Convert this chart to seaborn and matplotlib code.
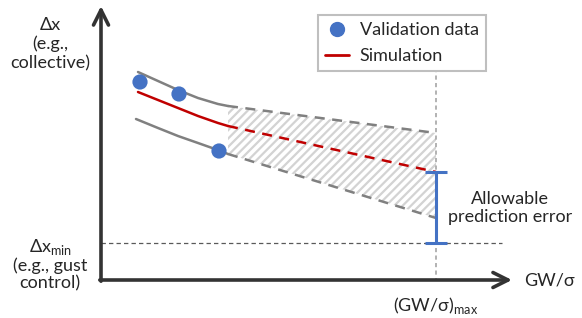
import matplotlib
matplotlib.use("Agg")
import matplotlib.pyplot as plt
import seaborn as sns
import numpy as np
import pandas as pd
from matplotlib.lines import Line2D

# schematic in picture units (x to the right, y downwards)
upper_x = [138, 158, 178, 198, 218, 228]
upper_y = [72, 81, 90, 98, 104, 106]
sim_x = [138, 158, 178, 198, 218, 228]
sim_y = [92, 100, 108, 116, 123, 126]
lower_x = [136, 158, 178, 198, 215, 228]
lower_y = [119, 128, 136, 143, 149, 154]

# extrapolated part
ext_x = [228, 436]
upper_ext_y = [106, 133]
sim_ext_y = [126, 172]
lower_ext_y = [154, 218]

val_x = [140, 179, 219]
val_y = [82, 94, 151]

x_max = 436
dx_min = 243
origin = (101, 280)

sns.set_theme(style="white")
plt.rcParams['font.family'] = ['Lato', 'DejaVu Sans']
plt.rcParams['hatch.linewidth'] = 1.6

fig = plt.figure(figsize=(5.82, 3.18), dpi=100)
ax = fig.add_axes([0, 0, 1, 1])
ax.set_xlim(0, 582)
ax.set_ylim(318, 0)
ax.axis("off")

grey = "#808080"
red = "#c00000"
blue = "#4472c4"
axis_col = "#333333"

# hatched uncertainty band
ax.fill_between(ext_x, upper_ext_y, lower_ext_y, facecolor="none",
                edgecolor="#d3d3d3", hatch="////", linewidth=0)

# reference lines
ax.plot([x_max, x_max], [68, origin[1]], color="#a6a6a6", lw=1.2, ls=(0, (2.5, 2)))
ax.plot([origin[0], 502], [dx_min, dx_min], color="#595959", lw=0.9, ls=(0, (3.5, 2.5)))

# curves
sns.lineplot(x=upper_x, y=upper_y, ax=ax, color=grey, lw=1.8, sort=False)
sns.lineplot(x=lower_x, y=lower_y, ax=ax, color=grey, lw=1.8, sort=False)
sns.lineplot(x=sim_x, y=sim_y, ax=ax, color=red, lw=1.8, sort=False)
ax.plot(ext_x, upper_ext_y, color=grey, lw=1.8, ls=(0, (4, 3)))
ax.plot(ext_x, lower_ext_y, color=grey, lw=1.8, ls=(0, (4, 3)))
ax.plot(ext_x, sim_ext_y, color=red, lw=1.8, ls=(0, (4, 3)))

sns.scatterplot(x=val_x, y=val_y, ax=ax, color=blue, s=120, edgecolor="none", zorder=5)

# allowable prediction error bar
ax.errorbar([x_max], [(sim_ext_y[1] + dx_min) / 2], yerr=[(dx_min - sim_ext_y[1]) / 2],
            color=blue, lw=2.2, capsize=8, capthick=2.2, zorder=6)

# axes arrows
arrow = dict(arrowstyle="->,head_length=0.9,head_width=0.45",
             color=axis_col, lw=2.6, shrinkA=0, shrinkB=0)
ax.annotate("", xy=(origin[0], 6), xytext=(origin[0], origin[1] + 1.2), arrowprops=arrow)
ax.annotate("", xy=(512, origin[1]), xytext=(origin[0] - 1.2, origin[1]), arrowprops=arrow)

fs = 13
ax.text(50, 44, "Δx\n(e.g.,\ncollective)", ha="center", va="center", fontsize=fs,
        linespacing=1.2)
ax.text(50, 264, "Δx$_{\\mathregular{min}}$\n(e.g., gust\ncontrol)", ha="center",
        va="center", fontsize=fs, linespacing=1.05)
ax.text(549, 281, "GW/σ", ha="center", va="center", fontsize=fs)
ax.text(x_max, 306, "(GW/σ)$_{\\mathregular{max}}$", ha="center", va="center", fontsize=fs)
ax.text(510, 208, "Allowable\nprediction error", ha="center", va="center", fontsize=fs,
        linespacing=1.15)

handles = [Line2D([], [], marker="o", ls="", color=blue, ms=10),
           Line2D([], [], color=red, lw=2)]
leg = ax.legend(handles, ["Validation data", "Simulation"], loc="upper left",
                bbox_to_anchor=(318 / 582, 1 - 15 / 318), borderaxespad=0,
                fancybox=False, framealpha=1, edgecolor="#bfbfbf", fontsize=fs,
                handlelength=1.3, handletextpad=0.6, borderpad=0.4, labelspacing=0.55)
leg.get_frame().set_linewidth(1.5)

fig.savefig("out.png", dpi=100)
